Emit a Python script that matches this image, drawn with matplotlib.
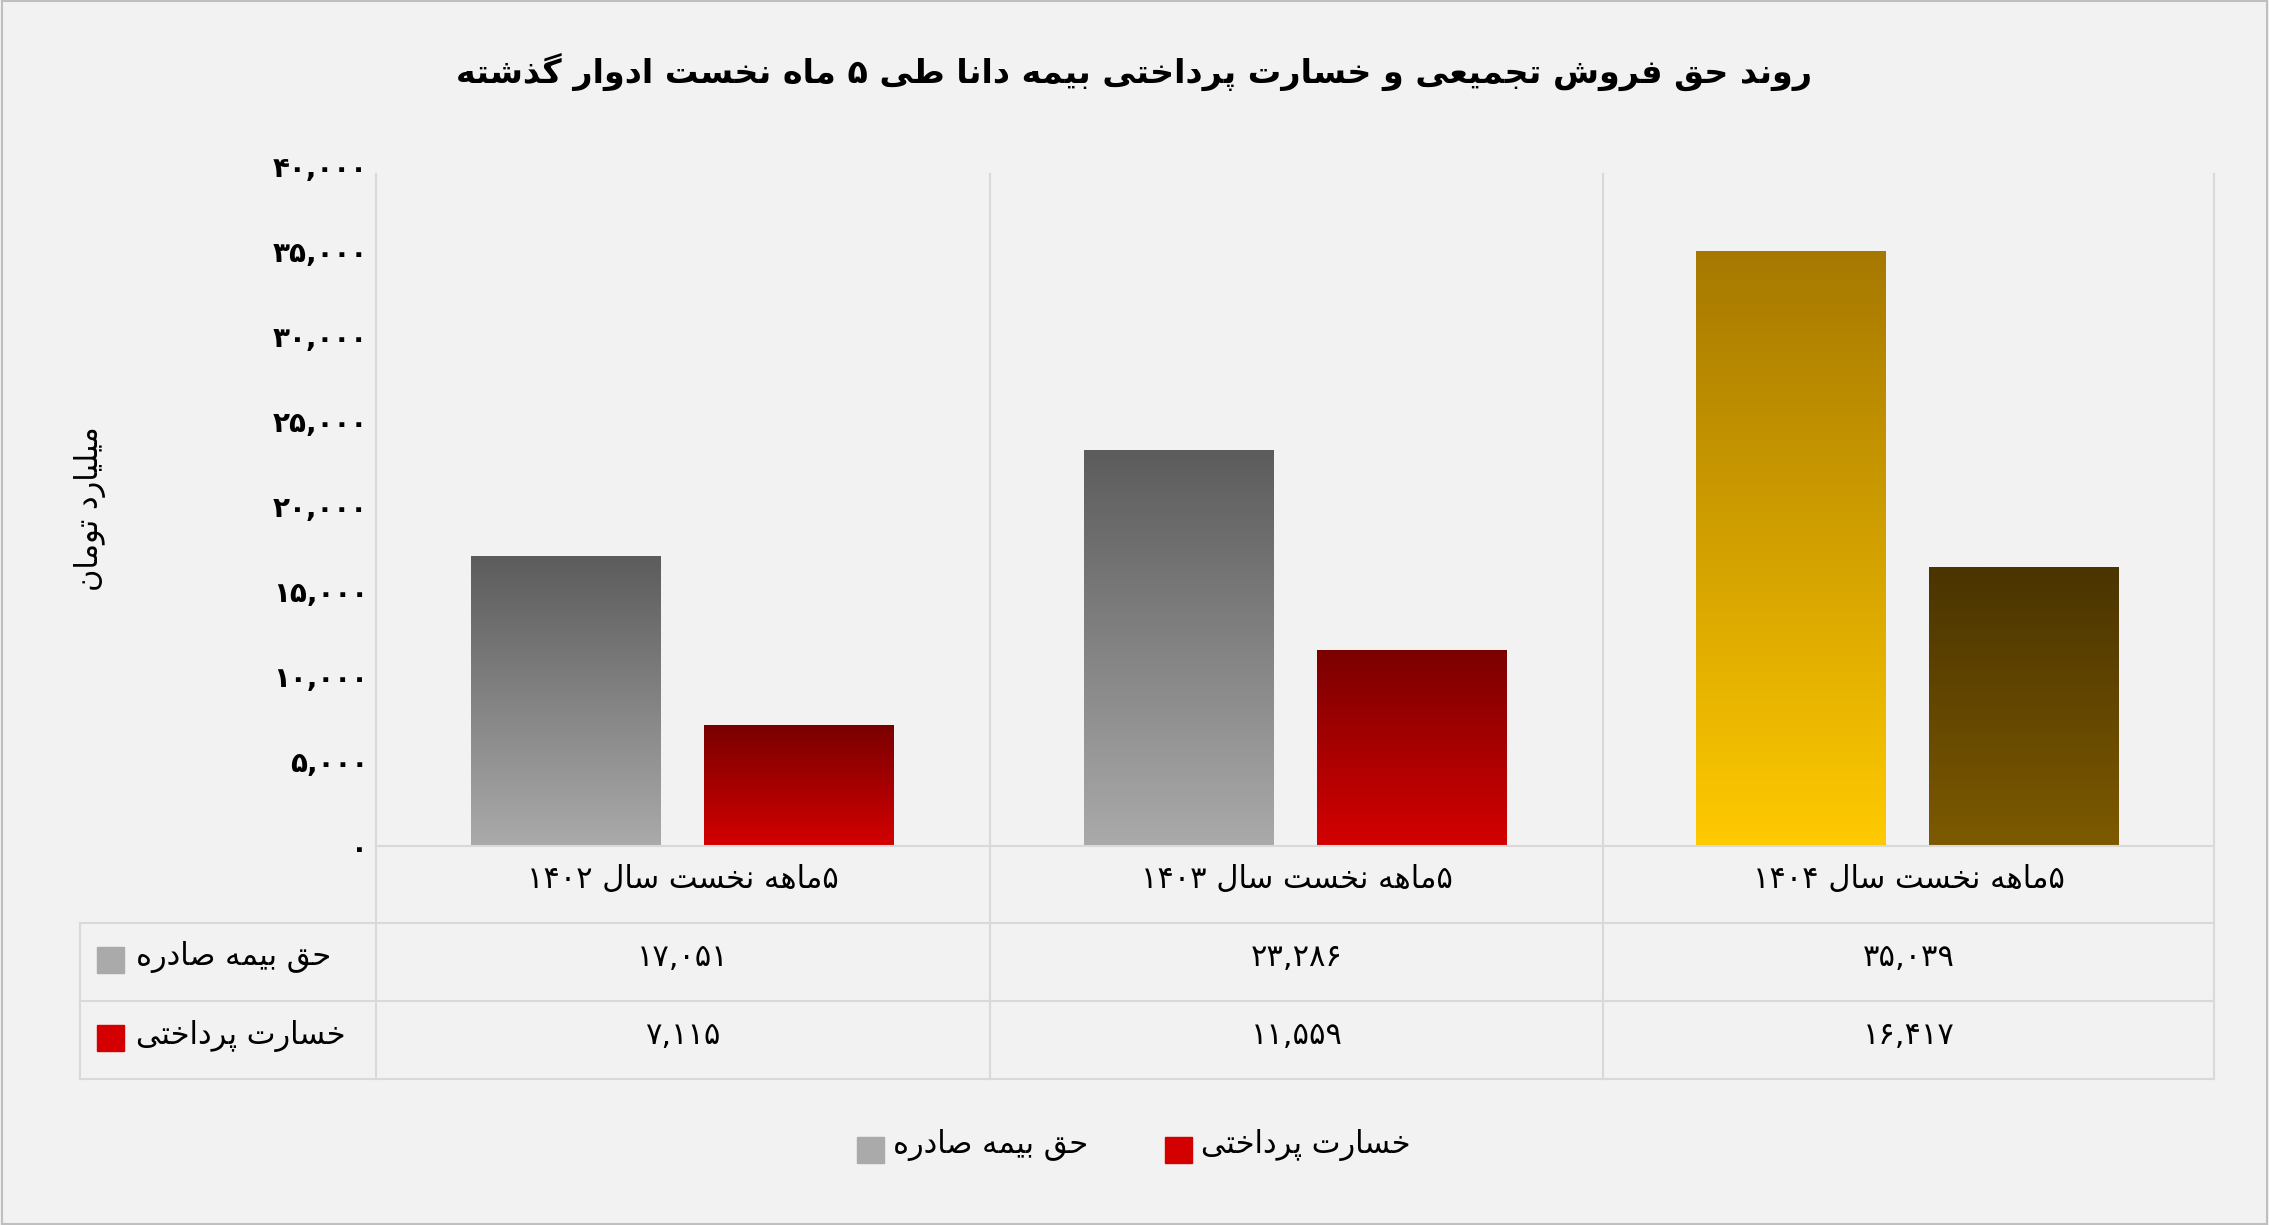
import numpy as np
import matplotlib.pyplot as plt
from matplotlib.lines import Line2D
from matplotlib.patches import Rectangle

# ---- data ----
title = "روند حق فروش تجمیعی و خسارت پرداختی بیمه دانا طی ۵ ماه نخست ادوار گذشته"
ylabel = "میلیارد تومان"
categories = ["۵ماهه نخست سال ۱۴۰۲", "۵ماهه نخست سال ۱۴۰۳", "۵ماهه نخست سال ۱۴۰۴"]
series_names = ["حق بیمه صادره", "خسارت پرداختی"]
premium = [17051, 23286, 35039]
claims = [7115, 11559, 16417]

# ---- minimal Persian shaping ----
FORMS = {  # isolated, final, initial, medial
    "ا": (0xFE8D, 0xFE8E, None, None), "د": (0xFEA9, 0xFEAA, None, None),
    "ذ": (0xFEAB, 0xFEAC, None, None), "ر": (0xFEAD, 0xFEAE, None, None),
    "ز": (0xFEAF, 0xFEB0, None, None), "و": (0xFEED, 0xFEEE, None, None),
    "ب": (0xFE8F, 0xFE90, 0xFE91, 0xFE92), "ت": (0xFE95, 0xFE96, 0xFE97, 0xFE98),
    "ج": (0xFE9D, 0xFE9E, 0xFE9F, 0xFEA0), "ح": (0xFEA1, 0xFEA2, 0xFEA3, 0xFEA4),
    "خ": (0xFEA5, 0xFEA6, 0xFEA7, 0xFEA8), "س": (0xFEB1, 0xFEB2, 0xFEB3, 0xFEB4),
    "ش": (0xFEB5, 0xFEB6, 0xFEB7, 0xFEB8), "ص": (0xFEB9, 0xFEBA, 0xFEBB, 0xFEBC),
    "ط": (0xFEC1, 0xFEC2, 0xFEC3, 0xFEC4), "ع": (0xFEC9, 0xFECA, 0xFECB, 0xFECC),
    "ف": (0xFED1, 0xFED2, 0xFED3, 0xFED4), "ق": (0xFED5, 0xFED6, 0xFED7, 0xFED8),
    "ل": (0xFEDD, 0xFEDE, 0xFEDF, 0xFEE0), "م": (0xFEE1, 0xFEE2, 0xFEE3, 0xFEE4),
    "ن": (0xFEE5, 0xFEE6, 0xFEE7, 0xFEE8), "ه": (0xFEE9, 0xFEEA, 0xFEEB, 0xFEEC),
    "پ": (0xFB56, 0xFB57, 0xFB58, 0xFB59), "گ": (0xFB92, 0xFB93, 0xFB94, 0xFB95),
    "ک": (0xFB8E, 0xFB8F, 0xFB90, 0xFB91), "ی": (0xFBFC, 0xFBFD, 0xFBFE, 0xFBFF),
}
DIGITS = set("۰۱۲۳۴۵۶۷۸۹0123456789,")


def shape_word(s):
    out = []
    for i, c in enumerate(s):
        if c not in FORMS:
            out.append(c)
            continue
        prev = s[i - 1] if i > 0 else None
        nxt = s[i + 1] if i + 1 < len(s) else None
        jp = prev in FORMS and FORMS[prev][2] is not None
        jn = FORMS[c][2] is not None and nxt in FORMS
        f = FORMS[c]
        if jp and jn:
            out.append(chr(f[3]))
        elif jp:
            out.append(chr(f[1]))
        elif jn:
            out.append(chr(f[2]))
        else:
            out.append(chr(f[0]))
    return "".join(out)


def fa(s):
    shaped = shape_word(s)
    runs, cur, isdig = [], "", None
    for c in shaped:
        d = c in DIGITS
        if cur and d != isdig:
            runs.append((cur, isdig))
            cur = ""
        cur += c
        isdig = d
    if cur:
        runs.append((cur, isdig))
    return "".join(r if d else r[::-1] for r, d in reversed(runs))


def fa_num(v):
    return f"{v:,}".translate(str.maketrans("0123456789", "۰۱۲۳۴۵۶۷۸۹"))


plt.rcParams["font.family"] = ["DejaVu Sans"]
W, H = 1568, 847
BG = "#f2f2f2"
GRID = "#d9d9d9"

fig = plt.figure(figsize=(22.69, 12.25), dpi=100, facecolor=BG)


def fx(x):
    return x / W


def fy(y):
    return 1 - y / H


ax = fig.add_axes([fx(260), fy(585), fx(1530) - fx(260), fy(115) - fy(585)], facecolor=BG)
ax.set_xlim(-0.5, 2.5)
ax.set_ylim(0, 40000)
for s in ax.spines.values():
    s.set_visible(False)
ax.set_xticks([])
yt = np.arange(0, 40001, 5000)
ax.set_yticks(yt)
ax.set_yticklabels([fa_num(v) for v in yt], fontsize=20, fontweight="bold")
ax.tick_params(axis="y", length=0, pad=6)

grads = {
    "grey": ("#5c5c5c", "#aaaaaa"),
    "red": ("#7a0000", "#d40000"),
    "gold": ("#a67800", "#ffca00"),
    "brown": ("#4a3400", "#7d5a00"),
}


def grad_bar(x, w, h, key):
    top, bot = (np.array(plt.matplotlib.colors.to_rgb(c)) for c in grads[key])
    t = np.linspace(0, 1, 256)[:, None]
    img = (top * (1 - t) + bot * t)[:, None, :]
    im = ax.imshow(img, extent=[x - w / 2, x + w / 2, 0, h], aspect="auto", origin="upper", zorder=2)
    rect = Rectangle((x - w / 2, 0), w, h, transform=ax.transData)
    im.set_clip_path(rect)


bw, off = 0.31, 0.19
for i in range(3):
    grad_bar(i - off, bw, premium[i], "gold" if i == 2 else "grey")
    grad_bar(i + off, bw, claims[i], "brown" if i == 2 else "red")
ax.set_xlim(-0.5, 2.5)
ax.set_ylim(0, 40000)


def hline(y, x0, x1):
    fig.add_artist(Line2D([fx(x0), fx(x1)], [fy(y), fy(y)], color=GRID, lw=1.5))


def vline(x, y0, y1):
    fig.add_artist(Line2D([fx(x), fx(x)], [fy(y0), fy(y1)], color=GRID, lw=1.5))


xs = [260, 684, 1108, 1530]
for x in xs:
    vline(x, 120, 746)
vline(55, 638, 746)
hline(585, 260, 1530)
hline(638, 55, 1530)
hline(692, 55, 1530)
hline(746, 55, 1530)

for i in range(3):
    cx = (xs[i] + xs[i + 1]) / 2
    fig.text(fx(cx), fy(608), fa(categories[i]), ha="center", va="center", fontsize=22)
    fig.text(fx(cx), fy(662), fa_num(premium[i]), ha="center", va="center", fontsize=22)
    fig.text(fx(cx), fy(716), fa_num(claims[i]), ha="center", va="center", fontsize=22)

for row_y, name, key in [(664, series_names[0], "grey"), (718, series_names[1], "red")]:
    fig.add_artist(Rectangle((fx(67), fy(row_y + 9)), fx(19), fy(0) - fy(18),
                             color=grads[key][1], transform=fig.transFigure))
    fig.text(fx(94), fy(row_y - 2), fa(name), ha="left", va="center", fontsize=22)

# legend
for sx, name, key in [(592, series_names[0], "grey"), (805, series_names[1], "red")]:
    fig.add_artist(Rectangle((fx(sx), fy(804)), fx(19), fy(0) - fy(18),
                             color=grads[key][1], transform=fig.transFigure))
    fig.text(fx(sx + 25), fy(792), fa(name), ha="left", va="center", fontsize=22)

fig.text(fx(784), fy(50), fa(title), ha="center", va="center", fontsize=24, fontweight="bold")
fig.text(fx(62), fy(352), fa(ylabel), ha="center", va="center", rotation=90, fontsize=22)
fig.add_artist(Rectangle((0.001, 0.001), 0.998, 0.998, fill=False, ec="#bfbfbf", lw=1.5,
                         transform=fig.transFigure))

fig.savefig("out.png", dpi=100, facecolor=BG)
